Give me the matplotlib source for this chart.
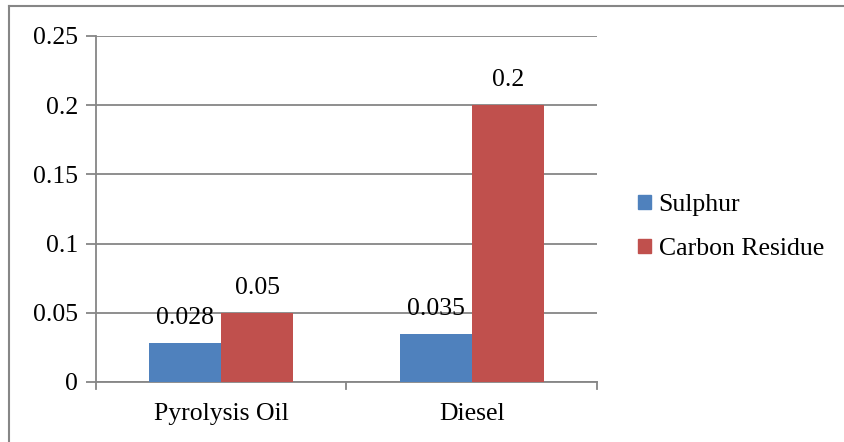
import matplotlib
matplotlib.use("Agg")
import matplotlib.pyplot as plt
import numpy as np
from matplotlib.lines import Line2D

categories = ["Pyrolysis Oil", "Diesel"]
series_names = ["Sulphur", "Carbon Residue"]
sulphur = [0.028, 0.035]
carbon_residue = [0.05, 0.2]
y_ticks = [0, 0.05, 0.1, 0.15, 0.2, 0.25]
y_tick_labels = ["0", "0.05", "0.1", "0.15", "0.2", "0.25"]

colors = ["#4F81BD", "#C0504D"]
grid_color = "#868686"

plt.rcParams["font.family"] = ["Liberation Serif", "DejaVu Serif"]
fs = 18.5

fig = plt.figure(figsize=(8.45, 4.42), dpi=100)
ax = fig.add_axes([96 / 845, 1 - 382 / 442, (597 - 96) / 845, (382 - 36) / 442])

x = np.arange(len(categories))
w = 0.288
values = [sulphur, carbon_residue]
offsets = [-w / 2, w / 2]
for vals, off, c, name in zip(values, offsets, colors, series_names):
    bars = ax.bar(x + off, vals, width=w, color=c, label=name, zorder=3, linewidth=0)
    for b, v in zip(bars, vals):
        ax.annotate(f"{v:g}", (b.get_x() + b.get_width() / 2, v),
                    xytext=(0, 10), textcoords="offset points",
                    ha="center", va="bottom", fontsize=fs, zorder=4)

ax.set_xlim(-0.5, 1.5)
ax.set_ylim(0, 0.25)
ax.set_yticks(y_ticks)
ax.set_yticklabels(y_tick_labels, fontsize=fs)
ax.set_xticks(x)
ax.set_xticklabels(categories, fontsize=fs)
ax.yaxis.grid(True, color=grid_color, linewidth=1.3, zorder=0)
ax.set_axisbelow(True)

for side in ["top", "right"]:
    ax.spines[side].set_visible(False)
ax.spines["left"].set_color(grid_color)
ax.spines["bottom"].set_color(grid_color)
ax.spines["left"].set_linewidth(1.3)
ax.spines["bottom"].set_linewidth(1.3)
ax.tick_params(axis="y", length=7, color=grid_color, width=1.3, pad=6)
ax.tick_params(axis="x", length=0, pad=15)
# category boundary tick marks below the axis
for xb in [-0.5, 0.5, 1.5]:
    ax.plot([xb, xb], [0, -0.005], color=grid_color, lw=1.3, clip_on=False, zorder=5)

handles = [plt.Rectangle((0, 0), 1, 1, color=c) for c in colors]
leg = fig.legend(handles, series_names, loc="upper left",
                 bbox_to_anchor=(615 / 845, 1 - 171 / 442), frameon=False,
                 fontsize=fs, handlelength=0.5, handleheight=0.5,
                 handletextpad=0.3, labelspacing=0.86)

# chart frame
fig.add_artist(Line2D([9.5 / 845, 9.5 / 845], [0, 1 - 6 / 442], color=grid_color,
                      lw=1.5, transform=fig.transFigure))
fig.add_artist(Line2D([9.5 / 845, 1], [1 - 6 / 442, 1 - 6 / 442], color=grid_color,
                      lw=1.5, transform=fig.transFigure))

fig.savefig("out.png", dpi=100)
